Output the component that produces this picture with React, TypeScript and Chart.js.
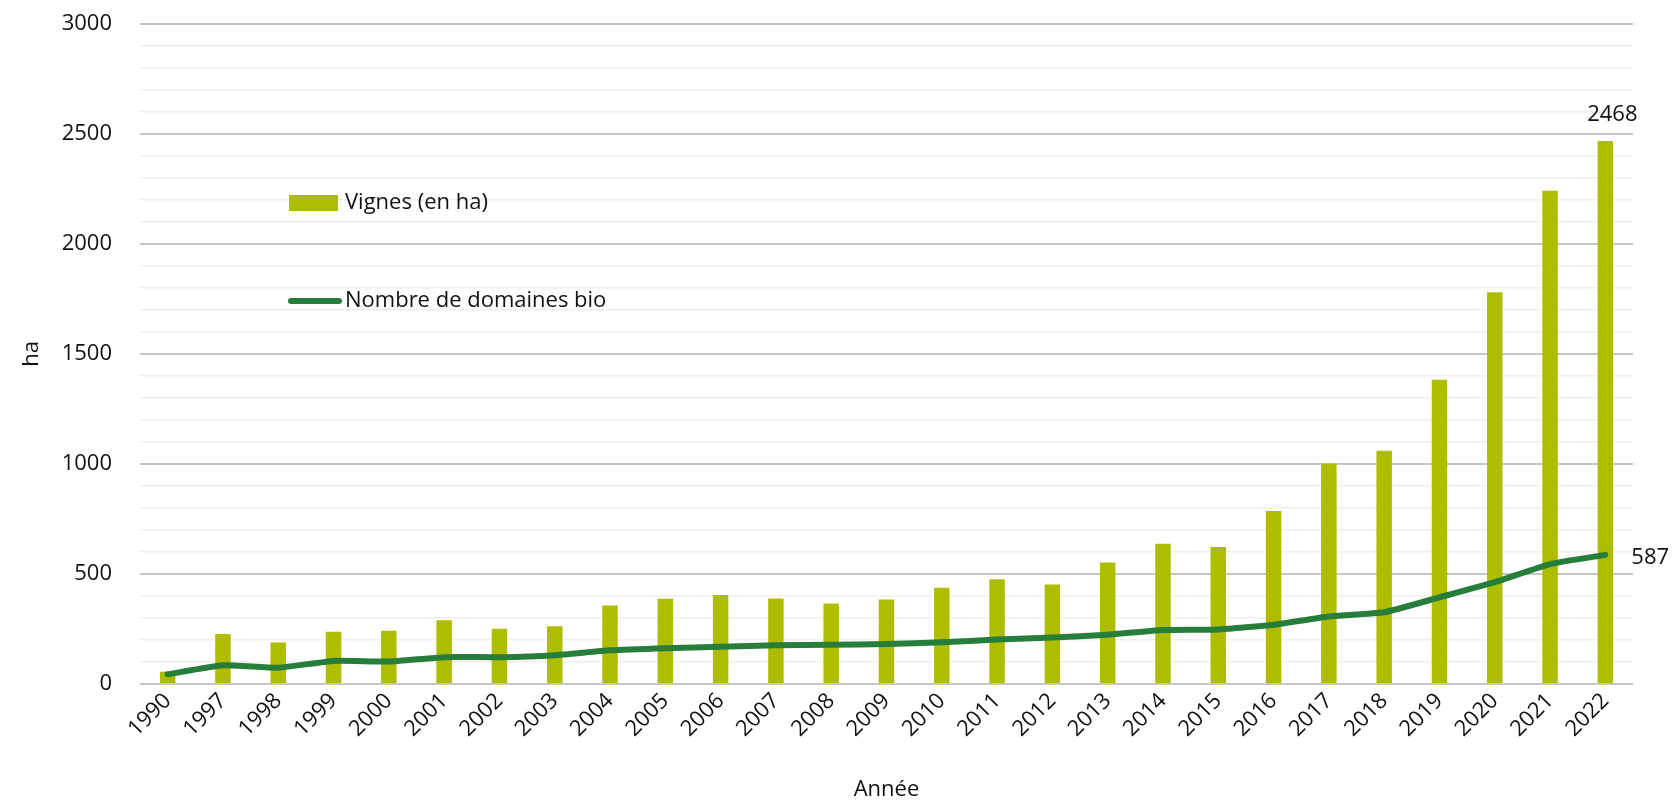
import { useEffect, useRef } from 'react';
import { Chart, registerables } from 'chart.js';

Chart.register(...registerables);

const years = ['1990', '1997', '1998', '1999', '2000', '2001', '2002', '2003', '2004', '2005', '2006', '2007', '2008', '2009', '2010', '2011', '2012', '2013', '2014', '2015', '2016', '2017', '2018', '2019', '2020', '2021', '2022'];
const vignes = [56, 227, 189, 237, 242, 290, 251, 262, 357, 387, 405, 389, 366, 384, 437, 476, 452, 552, 638, 623, 786, 1002, 1060, 1383, 1781, 2242, 2468];
const domaines = [44, 85, 74, 105, 102, 122, 122, 131, 153, 163, 169, 176, 178, 182, 190, 202, 211, 224, 245, 248, 269, 307, 326, 394, 463, 545, 587];
const seriesLabels = ['Vignes (en ha)', 'Nombre de domaines bio'];
const yMax = 3000;
const yMinorStep = 100;
const yMajorStep = 500;
const xTitle = 'Année';
const yTitle = 'ha';

const FONT = '"Open Sans", "Noto Sans", sans-serif';
const FONT_SIZE = 22;
const BAR_COLOR = '#AEBD00';
const LINE_COLOR = '#277D3A';
const TEXT_COLOR = '#111111';

const endLabels = {
  id: 'endLabels',
  afterDatasetsDraw(chart: any) {
    const ctx = chart.ctx;
    const barMeta = chart.getDatasetMeta(0);
    const lineMeta = chart.getDatasetMeta(1);
    const lastBar = barMeta.data[barMeta.data.length - 1];
    const lastPt = lineMeta.data[lineMeta.data.length - 1];
    ctx.save();
    ctx.font = `${FONT_SIZE}px ${FONT}`;
    ctx.fillStyle = TEXT_COLOR;
    ctx.textAlign = 'center';
    ctx.textBaseline = 'bottom';
    ctx.fillText(String(vignes[vignes.length - 1]), lastBar.x + 7, lastBar.y - 15);
    ctx.textAlign = 'left';
    ctx.textBaseline = 'middle';
    ctx.fillText(String(domaines[domaines.length - 1]), lastPt.x + 26, lastPt.y + 3);
    ctx.restore();
  },
};

const innerLegend = {
  id: 'innerLegend',
  afterDraw(chart: any) {
    const ctx = chart.ctx;
    const a = chart.chartArea;
    const x0 = a.left + 149;
    const y1 = a.top + 179;
    const y2 = a.top + 277;
    ctx.save();
    ctx.fillStyle = BAR_COLOR;
    ctx.fillRect(x0, y1 - 8, 49, 16);
    ctx.strokeStyle = LINE_COLOR;
    ctx.lineWidth = 6;
    ctx.lineCap = 'round';
    ctx.beginPath();
    ctx.moveTo(x0 + 2, y2);
    ctx.lineTo(x0 + 50, y2);
    ctx.stroke();
    ctx.font = `${FONT_SIZE}px ${FONT}`;
    ctx.fillStyle = TEXT_COLOR;
    ctx.textAlign = 'left';
    ctx.textBaseline = 'middle';
    ctx.fillText(seriesLabels[0], x0 + 56, y1);
    ctx.fillText(seriesLabels[1], x0 + 56, y2);
    ctx.restore();
  },
};

export default function App() {
  const ref = useRef<HTMLCanvasElement | null>(null);

  useEffect(() => {
    document.body.style.margin = '0';
    const canvas = ref.current;
    if (!canvas) return;
    const chart = new Chart(canvas, {
      type: 'bar',
      data: {
        labels: years,
        datasets: [
          {
            type: 'bar',
            label: seriesLabels[0],
            data: vignes,
            backgroundColor: BAR_COLOR,
            borderWidth: 0,
            categoryPercentage: 1,
            barPercentage: 0.28,
            order: 2,
          },
          {
            type: 'line',
            label: seriesLabels[1],
            data: domaines,
            borderColor: LINE_COLOR,
            backgroundColor: LINE_COLOR,
            borderWidth: 6,
            borderCapStyle: 'round',
            borderJoinStyle: 'round',
            pointRadius: 0,
            tension: 0.15,
            order: 1,
          },
        ],
      } as any,
      options: {
        animation: false,
        responsive: true,
        maintainAspectRatio: false,
        layout: { padding: { top: 24, right: 45, left: 19, bottom: 0 } },
        plugins: {
          legend: { display: false },
          tooltip: { enabled: false },
        },
        scales: {
          x: {
            grid: { display: false, drawTicks: false },
            border: { display: false },
            ticks: {
              color: TEXT_COLOR,
              font: { family: FONT, size: FONT_SIZE },
              minRotation: 45,
              maxRotation: 45,
              autoSkip: false,
              padding: 4,
            },
            title: {
              display: true,
              text: xTitle,
              color: TEXT_COLOR,
              font: { family: FONT, size: FONT_SIZE },
              padding: { top: 0, bottom: 0 },
            },
            afterFit: (s: any) => {
              s.height = 119;
            },
          },
          y: {
            min: 0,
            max: yMax,
            border: { display: false },
            grid: {
              drawTicks: true,
              tickLength: 28,
              tickColor: 'rgba(0,0,0,0)',
              color: (c: any) => (c.tick && c.tick.value % yMajorStep === 0 ? '#c6c6c6' : '#efefef'),
              lineWidth: (c: any) => (c.tick && c.tick.value % yMajorStep === 0 ? 2 : 1.5),
            },
            ticks: {
              stepSize: yMinorStep,
              autoSkip: false,
              color: TEXT_COLOR,
              font: { family: FONT, size: FONT_SIZE },
              padding: 0,
              callback: (v: any) => (Number(v) % yMajorStep === 0 ? String(v) : ''),
            },
            title: {
              display: true,
              text: yTitle,
              color: TEXT_COLOR,
              font: { family: FONT, size: FONT_SIZE },
              padding: 0,
            },
            afterFit: (s: any) => {
              s.width = 121;
            },
          },
        },
      } as any,
      plugins: [endLabels, innerLegend],
    });
    return () => chart.destroy();
  }, []);

  return (
    <div style={{ width: 1678, height: 803, position: 'relative', background: '#fff' }}>
      <canvas ref={ref} />
    </div>
  );
}
